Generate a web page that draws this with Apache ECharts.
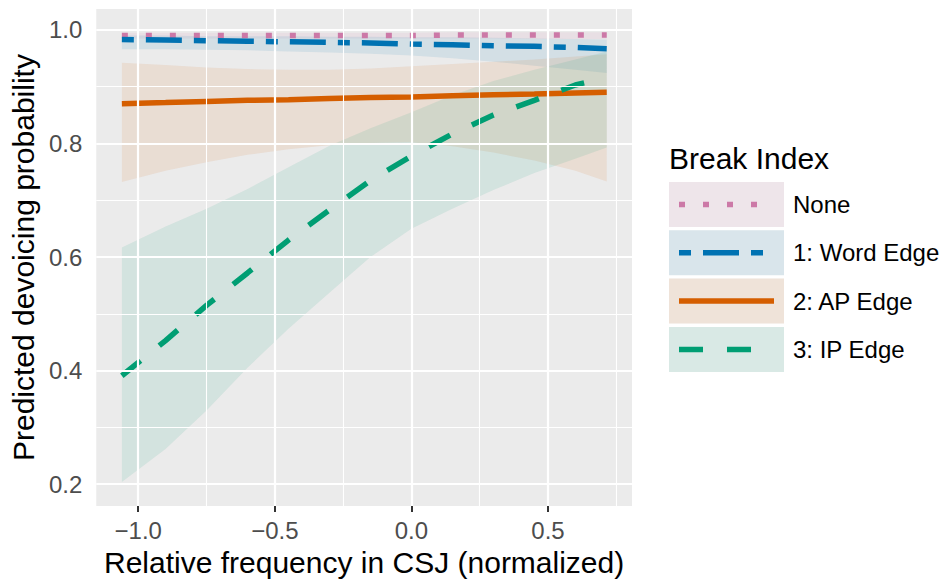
<!DOCTYPE html>
<html>
<head>
<meta charset="utf-8">
<script src="https://cdn.jsdelivr.net/npm/echarts@6/dist/echarts.min.js"></script>
<style>
  html, body { margin: 0; padding: 0; background: #fff; }
  #chartDom { width: 946px; height: 582px; }
</style>
</head>
<body>
<div id="chartDom"></div>
<script>
var xs = [-1.06, -0.9, -0.75, -0.6, -0.45, -0.3, -0.15, 0, 0.15, 0.3, 0.45, 0.6, 0.715];

// None
var noneFit = [0.990, 0.990, 0.990, 0.990, 0.990, 0.990, 0.990, 0.990, 0.991, 0.991, 0.991, 0.991, 0.991];
var noneLo  = [0.985, 0.985, 0.985, 0.985, 0.985, 0.985, 0.985, 0.985, 0.985, 0.985, 0.984, 0.984, 0.984];
var noneHi  = [0.995, 0.995, 0.995, 0.995, 0.995, 0.995, 0.995, 0.995, 0.996, 0.996, 0.996, 0.996, 0.996];
// 1: Word Edge
var wordFit = [0.983, 0.982, 0.981, 0.980, 0.979, 0.978, 0.977, 0.975, 0.974, 0.972, 0.971, 0.969, 0.967];
var wordLo  = [0.966, 0.966, 0.965, 0.964, 0.962, 0.960, 0.958, 0.955, 0.950, 0.944, 0.937, 0.930, 0.924];
var wordHi  = [0.990, 0.990, 0.989, 0.989, 0.989, 0.988, 0.988, 0.987, 0.987, 0.986, 0.985, 0.984, 0.983];
// 2: AP Edge
var apFit = [0.870, 0.872, 0.874, 0.876, 0.877, 0.879, 0.881, 0.882, 0.884, 0.886, 0.887, 0.889, 0.890];
var apLo  = [0.732, 0.752, 0.767, 0.780, 0.790, 0.797, 0.801, 0.802, 0.795, 0.784, 0.770, 0.752, 0.733];
var apHi  = [0.942, 0.938, 0.934, 0.931, 0.930, 0.930, 0.932, 0.936, 0.940, 0.944, 0.948, 0.953, 0.957];
// 3: IP Edge
var ipFit = [0.391, 0.453, 0.515, 0.572, 0.630, 0.683, 0.735, 0.778, 0.817, 0.850, 0.876, 0.903, 0.916];
var ipLo  = [0.204, 0.262, 0.330, 0.405, 0.474, 0.537, 0.600, 0.650, 0.685, 0.718, 0.748, 0.773, 0.793];
var ipHi  = [0.617, 0.654, 0.685, 0.720, 0.758, 0.796, 0.827, 0.855, 0.885, 0.910, 0.930, 0.948, 0.962];

var groupNames = ['None', '1: Word Edge', '2: AP Edge', '3: IP Edge'];
var xTicks = [-1, -0.5, 0, 0.5];
var xMinor = [-0.75, -0.25, 0.25, 0.75];
var yTicks = [0.2, 0.4, 0.6, 0.8, 1.0];
var yMinor = [0.3, 0.5, 0.7, 0.9];

var colors = ['#CC79A7', '#0072B2', '#D55E00', '#009E73'];
var dashes = [[6, 18], [12, 12, 36, 12], 'solid', [24, 24]];
var FONT = '"Liberation Sans", Arial, Helvetica, sans-serif';

function rgba(hex, a) {
    var n = parseInt(hex.slice(1), 16);
    return 'rgba(' + (n >> 16) + ',' + ((n >> 8) & 255) + ',' + (n & 255) + ',' + a + ')';
}

function fmtX(v) {
    return v < 0 ? '\u2212' + Math.abs(v).toFixed(1) : v.toFixed(1);
}

function bandSeries(lo, hi, color) {
    return {
        type: 'custom',
        silent: true,
        z: 2,
        clip: true,
        data: xs.map(function (x, i) { return [x, lo[i], hi[i]]; }),
        encode: { x: 0, y: [1, 2] },
        renderItem: function (params, api) {
            if (params.dataIndex !== 0) return;
            var pts = [];
            for (var i = 0; i < xs.length; i++) pts.push(api.coord([xs[i], hi[i]]));
            for (var j = xs.length - 1; j >= 0; j--) pts.push(api.coord([xs[j], lo[j]]));
            return { type: 'polygon', shape: { points: pts }, style: { fill: rgba(color, 0.1) } };
        }
    };
}

function lineSeries(name, fit, color, dash) {
    return {
        name: name,
        type: 'line',
        z: 3,
        silent: true,
        showSymbol: false,
        data: xs.map(function (x, i) { return [x, fit[i]]; }),
        lineStyle: { color: color, width: 5.5, type: dash, cap: 'butt' }
    };
}

function gridLines(vals, key, width) {
    return {
        type: 'line',
        z: 1,
        silent: true,
        data: [],
        markLine: {
            silent: true,
            symbol: 'none',
            label: { show: false },
            lineStyle: { color: '#FFFFFF', width: width, type: 'solid' },
            data: vals.map(function (v) { var o = {}; o[key] = v; return o; })
        }
    };
}

var bands = [[noneLo, noneHi], [wordLo, wordHi], [apLo, apHi], [ipLo, ipHi]];
var fits = [noneFit, wordFit, apFit, ipFit];

var series = [
    gridLines(xMinor, 'xAxis', 1.1),
    gridLines(yMinor, 'yAxis', 1.1),
    gridLines(xTicks, 'xAxis', 2.2),
    gridLines(yTicks, 'yAxis', 2.2)
];
bands.forEach(function (b, i) { series.push(bandSeries(b[0], b[1], colors[i])); });
fits.forEach(function (f, i) { series.push(lineSeries(groupNames[i], f, colors[i], dashes[i])); });

// legend drawn by hand to get ggplot style keys
var legendItems = [{
    type: 'text',
    style: { text: 'Break Index', x: 669, y: 158, font: '30px ' + FONT, fill: '#000', verticalAlign: 'middle' }
}];
groupNames.forEach(function (name, i) {
    var top = 182 + i * 48.3;
    legendItems.push({ type: 'rect', shape: { x: 669, y: top, width: 115, height: 45 }, style: { fill: '#F2F2F2' } });
    legendItems.push({ type: 'rect', shape: { x: 669, y: top, width: 115, height: 45 }, style: { fill: rgba(colors[i], 0.1) } });
    legendItems.push({
        type: 'line',
        shape: { x1: 679, y1: top + 22.5, x2: 774, y2: top + 22.5 },
        style: { stroke: colors[i], lineWidth: 5.5, lineDash: dashes[i] === 'solid' ? null : dashes[i], lineCap: 'butt' }
    });
    legendItems.push({
        type: 'text',
        style: { text: name, x: 793, y: top + 22.5, font: '24px ' + FONT, fill: '#000', verticalAlign: 'middle' }
    });
});

var chartDom = echarts.init(document.getElementById('chartDom'), null, { renderer: 'svg' });
chartDom.setOption({
    animation: false,
    backgroundColor: '#FFFFFF',
    textStyle: { fontFamily: FONT },
    grid: {
        left: 96, top: 9, width: 536, height: 500,
        show: true, backgroundColor: '#EBEBEB', borderWidth: 0
    },
    xAxis: {
        type: 'value',
        min: -1.1537, max: 0.8075,
        name: 'Relative frequency in CSJ (normalized)',
        nameLocation: 'middle',
        nameGap: 39,
        nameTextStyle: { fontSize: 30, color: '#000', fontFamily: FONT },
        axisLine: { show: false },
        splitLine: { show: false },
        axisTick: { show: true, length: 6, customValues: xTicks, lineStyle: { color: '#333333', width: 2 } },
        axisLabel: { customValues: xTicks, formatter: fmtX, fontSize: 24, color: '#4D4D4D', margin: 12, fontFamily: FONT }
    },
    yAxis: {
        type: 'value',
        min: 0.1615, max: 1.0368,
        name: 'Predicted devoicing probability',
        nameLocation: 'middle',
        nameGap: 58,
        nameTextStyle: { fontSize: 30, color: '#000', fontFamily: FONT },
        axisLine: { show: false },
        splitLine: { show: false },
        axisTick: { show: true, length: 6, customValues: yTicks, lineStyle: { color: '#333333', width: 2 } },
        axisLabel: { customValues: yTicks, formatter: function (v) { return v.toFixed(1); }, fontSize: 24, color: '#4D4D4D', margin: 14, fontFamily: FONT }
    },
    graphic: legendItems,
    series: series
});
</script>
</body>
</html>
